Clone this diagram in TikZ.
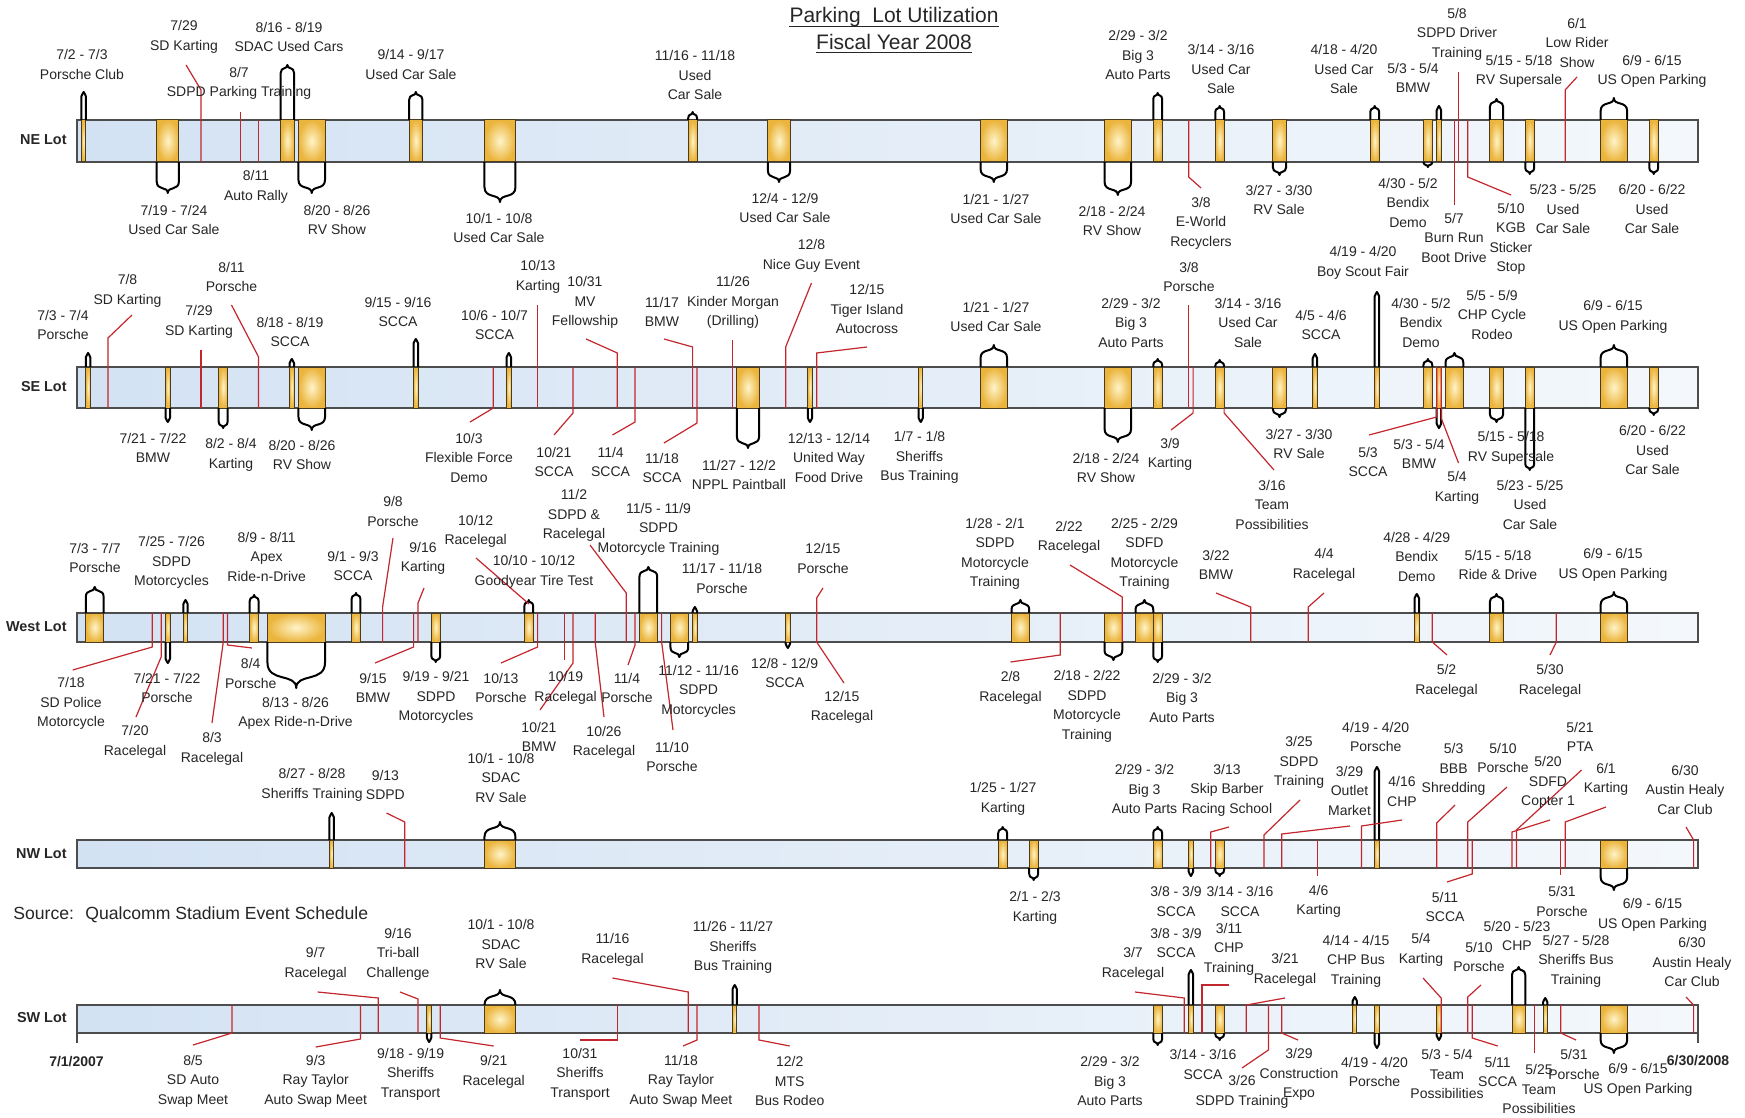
\documentclass[tikz,border=0pt]{standalone}
\usepackage{fontspec}
\setmainfont{Liberation Sans}
\definecolor{barL}{HTML}{D3E2F3}
\definecolor{barR}{HTML}{F4F8FC}
\definecolor{barline}{HTML}{4D4D4D}
\definecolor{boxin}{HTML}{FFF4C8}
\definecolor{boxout}{HTML}{EBB43C}
\definecolor{boxline}{HTML}{4A3C1C}
\definecolor{lead}{HTML}{C4262E}
\definecolor{txt}{HTML}{262626}
\pgfmathdeclarefunction{xd}{1}{\pgfmathparse{77+4.429*#1}}
\newcounter{labc}
\tikzset{
 bar/.style={draw=barline,line width=0.8pt,left color=barL,right color=barR},
 evbox/.style={draw=boxline,line width=0.5pt,inner color=boxin,outer color=boxout},
 callout/.style={draw=black,line width=1pt,line join=round},
 leader/.style={draw=lead,line width=0.6pt},
 lbl/.style={font=\fontsize{7}{9.75}\selectfont,align=center,text=txt,inner sep=0pt},
 lot/.style={font=\fontsize{7.2}{9}\selectfont\bfseries,text=txt,inner sep=0pt,anchor=east},
}
\newcommand\evlab[3]{\stepcounter{labc}\node[lbl] (lab\arabic{labc}) at (#1,#2) {#3};}
\newcommand\evbx[2]{\pgfmathsetmacro\qa{xd(#1)}\pgfmathsetmacro\qb{xd(#2)}\draw[evbox] (\qa,\yt) rectangle (\qb,\yb);}
\newcommand\callup[3]{%
 \pgfmathsetmacro\qa{xd(#1)}\pgfmathsetmacro\qb{xd(#2)}%
 \pgfmathsetmacro\qm{(\qa+\qb)/2}%
 \pgfmathsetmacro\qh{min(0.4*(\qb-\qa)+2.5,\yt-#3)}%
 \pgfmathsetmacro\qy{#3+\qh}\pgfmathsetmacro\qc{#3+0.2*\qh}\pgfmathsetmacro\qd{#3+0.6*\qh}%
 \draw[callout] (\qa,\yt) -- (\qa,\qy) .. controls (\qa,\qc) and (\qm,\qd) .. (\qm,#3) .. controls (\qm,\qd) and (\qb,\qc) .. (\qb,\qy) -- (\qb,\yt);}
\newcommand\calldn[3]{%
 \pgfmathsetmacro\qa{xd(#1)}\pgfmathsetmacro\qb{xd(#2)}%
 \pgfmathsetmacro\qm{(\qa+\qb)/2}%
 \pgfmathsetmacro\qh{min(0.4*(\qb-\qa)+2.5,#3-\yb)}%
 \pgfmathsetmacro\qy{#3-\qh}\pgfmathsetmacro\qc{#3-0.2*\qh}\pgfmathsetmacro\qd{#3-0.6*\qh}%
 \draw[callout] (\qa,\yb) -- (\qa,\qy) .. controls (\qa,\qc) and (\qm,\qd) .. (\qm,#3) .. controls (\qm,\qd) and (\qb,\qc) .. (\qb,\qy) -- (\qb,\yb);}
\newcommand\evu[3]{\evbx{#1}{#2}\callup{#1}{#2}{#3}}
\newcommand\evd[3]{\evbx{#1}{#2}\calldn{#1}{#2}{#3}}
\begin{document}
\begin{tikzpicture}[x=0.5pt,y=-0.5pt]
\useasboundingbox (0,0) rectangle (1745,1118);
\fill[white] (0,0) rectangle (1745,1118);
% ---------- title ----------
\node[font=\fontsize{10.5}{12}\selectfont,text=txt,inner sep=0pt,anchor=base] (t1) at (894,23) {Parking~ Lot Utilization};
\node[font=\fontsize{10.5}{12}\selectfont,text=txt,inner sep=0pt,anchor=base] (t2) at (894,49.5) {Fiscal Year 2008};
\draw[txt,line width=0.6pt] ([yshift=-1.6pt]t1.base west) -- ([yshift=-1.6pt]t1.base east);
\draw[txt,line width=0.6pt] ([yshift=-1.6pt]t2.base west) -- ([yshift=-1.6pt]t2.base east);
\node[font=\fontsize{8.8}{10}\selectfont,text=txt,inner sep=0pt,anchor=west] (src) at (13,915) {Source:~ Qualcomm Stadium Event Schedule};
% ================= NE LOT =================
\def\yt{120}\def\yb{162}
\draw[bar] (77,\yt) rectangle (1698,\yb);
\node[lot] (neLot) at (67,140) {NE Lot};
\evu{1}{2}{92}
\evd{18}{23}{193}
\evu{46}{49}{65}
\evd{50}{56}{193}
\evu{75}{78}{92}
\evd{92}{99}{202}
\evu{138}{140}{112}
\evd{156}{161}{182}
\evd{204}{210}{182}
\evd{232}{238}{195}
\evu{243}{245}{93}
\evu{257}{259}{106}
\evd{270}{273}{175}
\evu{292}{294}{106}
\evd{304}{306}{167}
\evu{307}{308}{106}
\evu{319}{322}{99}
\evd{327}{329}{174}
\evu{344}{350}{98}
\evd{355}{357}{174}
\draw[leader] (186,65) -- ({xd(28)},90) -- ({xd(28)},162);
\draw[leader] ({xd(37)},112) -- ({xd(37)},162);
\draw[leader] ({xd(41)},120) -- ({xd(41)},162);
\draw[leader] ({xd(251)},120) -- ({xd(251)},177) -- (1201,188);
\draw[leader] ({xd(311)},120) -- ({xd(311)},205);
\draw[leader] ({xd(312)},72) -- ({xd(312)},162);
\draw[leader] ({xd(314)},120) -- ({xd(314)},177) -- (1511,195);
\draw[leader] ({xd(336)},162) -- ({xd(336)},90) -- (1577,77);
\evlab{82}{64.5}{7/2 - 7/3\\Porsche Club}
\evlab{174}{220}{7/19 - 7/24\\Used Car Sale}
\evlab{184}{37}{7/29\\SD Karting}
\evlab{239}{83.5}{8/7\\SDPD Parking Training}
\evlab{256}{187}{8/11\\Auto Rally}
\evlab{289}{37}{8/16 - 8/19\\SDAC Used Cars}
\evlab{337}{220}{8/20 - 8/26\\RV Show}
\evlab{411}{64.5}{9/14 - 9/17\\Used Car Sale}
\evlab{499}{228}{10/1 - 10/8\\Used Car Sale}
\evlab{695}{75}{11/16 - 11/18\\Used\\Car Sale}
\evlab{785}{208}{12/4 - 12/9\\Used Car Sale}
\evlab{996}{209}{1/21 - 1/27\\Used Car Sale}
\evlab{1112}{221}{2/18 - 2/24\\RV Show}
\evlab{1138}{55}{2/29 - 3/2\\Big 3\\Auto Parts}
\evlab{1201}{223}{3/8\\E-World\\Recyclers}
\evlab{1221}{69}{3/14 - 3/16\\Used Car\\Sale}
\evlab{1279}{200}{3/27 - 3/30\\RV Sale}
\evlab{1344}{69}{4/18 - 4/20\\Used Car\\Sale}
\evlab{1408}{202.5}{4/30 - 5/2\\Bendix\\Demo}
\evlab{1413}{78}{5/3 - 5/4\\BMW}
\evlab{1454}{237.5}{5/7\\Burn Run\\Boot Drive}
\evlab{1457}{34}{5/8\\SDPD Driver\\Training}
\evlab{1511}{239}{5/10\\KGB\\Sticker\\Stop}
\evlab{1519}{71.5}{5/15 - 5/18\\RV Supersale}
\evlab{1563}{209}{5/23 - 5/25\\Used\\Car Sale}
\evlab{1577}{42.5}{6/1\\Low Rider\\Show}
\evlab{1652}{71.5}{6/9 - 6/15\\US Open Parking}
\evlab{1652}{209}{6/20 - 6/22\\Used\\Car Sale}
% ================= SE LOT =================
\def\yt{367}\def\yb{408}
\draw[bar] (77,\yt) rectangle (1698,\yb);
\node[lot] (seLot) at (67,387) {SE Lot};
\evu{2}{3}{353}
\evd{20}{21}{422}
\evd{32}{34}{428}
\evu{48}{49}{359}
\evd{50}{56}{430}
\evu{76}{77}{339}
\evu{97}{98}{353}
\evd{149}{154}{448}
\evd{165}{166}{422}
\evd{190}{191}{422}
\evu{204}{210}{345}
\evd{232}{238}{442}
\evu{243}{245}{359}
\evu{257}{259}{360}
\evd{270}{273}{417}
\evu{279}{280}{354}
\evu{293}{294}{292}
\evu{304}{306}{359}
\evd{307}{308}{428}
\evu{309}{313}{353}
\evd{319}{322}{422}
\evd{327}{329}{470}
\evu{344}{350}{345}
\evd{355}{357}{415}
\draw[leader] (132,315) -- ({xd(7)},338) -- ({xd(7)},408);
\draw[leader] ({xd(28)},350) -- ({xd(28)},408);
\draw[leader] (231.5,305) -- ({xd(41)},357) -- ({xd(41)},408);
\draw[leader] ({xd(94)},367) -- ({xd(94)},408) -- (470,422);
\draw[leader] ({xd(104)},305) -- ({xd(104)},408);
\draw[leader] ({xd(112)},367) -- ({xd(112)},413) -- (554,435);
\draw[leader] (586,339) -- ({xd(122)},353) -- ({xd(122)},408);
\draw[leader] ({xd(126)},367) -- ({xd(126)},422) -- (612.5,435);
\draw[leader] (664,339) -- ({xd(139)},347) -- ({xd(139)},408);
\draw[leader] ({xd(140)},367) -- ({xd(140)},423) -- (664,443);
\draw[leader] ({xd(148)},340) -- ({xd(148)},408);
\draw[leader] (811.5,283) -- ({xd(160)},347) -- ({xd(160)},408);
\draw[leader] (867,347) -- ({xd(167)},353) -- ({xd(167)},408);
\draw[leader] ({xd(251)},305) -- ({xd(251)},408);
\draw[leader] ({xd(252)},367) -- ({xd(252)},413) -- (1171,430);
\draw[leader] ({xd(259)},408) -- ({xd(259)},413) -- (1274,470);
\draw[leader] ({xd(307)},367) -- ({xd(307)},417) -- (1369,435);
\draw[leader] ({xd(308)},367) -- ({xd(308)},418) -- (1458.5,463);
\evlab{63}{325}{7/3 - 7/4\\Porsche}
\evlab{127.5}{291}{7/8\\SD Karting}
\evlab{153}{448}{7/21 - 7/22\\BMW}
\evlab{199}{322}{7/29\\SD Karting}
\evlab{231}{455}{8/2 - 8/4\\Karting}
\evlab{231.5}{277}{8/11\\Porsche}
\evlab{290}{332}{8/18 - 8/19\\SCCA}
\evlab{302}{455}{8/20 - 8/26\\RV Show}
\evlab{398}{312}{9/15 - 9/16\\SCCA}
\evlab{469}{457.5}{10/3\\Flexible Force\\Demo}
\evlab{494.5}{325}{10/6 - 10/7\\SCCA}
\evlab{538}{277}{10/13\\Karting}
\evlab{554}{462}{10/21\\SCCA}
\evlab{585}{302.5}{10/31\\MV\\Fellowship}
\evlab{610.6}{462}{11/4\\SCCA}
\evlab{662}{312}{11/17\\BMW}
\evlab{662}{468}{11/18\\SCCA}
\evlab{733}{302.5}{11/26\\Kinder Morgan\\(Drilling)}
\evlab{739}{475}{11/27 - 12/2\\NPPL Paintball}
\evlab{811.5}{256}{12/8\\Nice Guy Event}
\evlab{829}{457.5}{12/13 - 12/14\\United Way\\Food Drive}
\evlab{867}{309}{12/15\\Tiger Island\\Autocross}
\evlab{919.5}{457.5}{1/7 - 1/8\\Sheriffs\\Bus Training}
\evlab{996}{317}{1/21 - 1/27\\Used Car Sale}
\evlab{1106}{468}{2/18 - 2/24\\RV Show}
\evlab{1131}{322.5}{2/29 - 3/2\\Big 3\\Auto Parts}
\evlab{1189}{277}{3/8\\Porsche}
\evlab{1170}{454.5}{3/9\\Karting}
\evlab{1248}{322.5}{3/14 - 3/16\\Used Car\\Sale}
\evlab{1272}{504.5}{3/16\\Team\\Possibilities}
\evlab{1299}{444}{3/27 - 3/30\\RV Sale}
\evlab{1321}{325}{4/5 - 4/6\\SCCA}
\evlab{1363}{263}{4/19 - 4/20\\Boy Scout Fair}
\evlab{1421}{322.5}{4/30 - 5/2\\Bendix\\Demo}
\evlab{1368}{462}{5/3\\SCCA}
\evlab{1419}{454}{5/3 - 5/4\\BMW}
\evlab{1457}{488}{5/4\\Karting}
\evlab{1492}{314.5}{5/5 - 5/9\\CHP Cycle\\Rodeo}
\evlab{1511}{448}{5/15 - 5/18\\RV Supersale}
\evlab{1530}{504.5}{5/23 - 5/25\\Used\\Car Sale}
\evlab{1613}{317}{6/9 - 6/15\\US Open Parking}
\evlab{1652.5}{450}{6/20 - 6/22\\Used\\Car Sale}
% ================= WEST LOT =================
\def\yt{613}\def\yb{642}
\draw[bar] (77,\yt) rectangle (1698,\yb);
\node[lot] (wLot) at (67,627) {West Lot};
\evu{2}{6}{587}
\evd{20}{21}{663}
\evu{24}{25}{600}
\evu{39}{41}{595}
\evd{43}{56}{688}
\evu{62}{64}{593}
\evd{80}{82}{662}
\evu{101}{103}{600}
\evu{127}{131}{567}
\evd{134}{138}{657}
\evu{139}{140}{607}
\evd{160}{161}{648}
\evu{211}{215}{600}
\evd{232}{236}{660}
\evu{239}{243}{600}
\evd{243}{245}{662}
\evu{302}{303}{594}
\evu{319}{322}{594}
\evu{344}{350}{592}
\draw[leader] ({xd(17)},613) -- ({xd(17)},647) -- (72.7,670);
\draw[leader] ({xd(19)},613) -- ({xd(19)},657) -- (136,717);
\draw[leader] ({xd(33)},613) -- ({xd(33)},643) -- (212,723);
\draw[leader] ({xd(34)},613) -- ({xd(34)},645) -- (252,648);
\draw[leader] (393,538) -- ({xd(69)},607) -- ({xd(69)},642);
\draw[leader] ({xd(76)},613) -- ({xd(76)},647) -- (375,663);
\draw[leader] (424,588) -- ({xd(77)},603) -- ({xd(77)},642);
\draw[leader] (476,558) -- (529,604);
\draw[leader] ({xd(104)},613) -- ({xd(104)},647) -- (501,663);
\draw[leader] ({xd(110)},613) -- ({xd(110)},660);
\draw[leader] ({xd(112)},613) -- ({xd(112)},663) -- (540,710);
\draw[leader] ({xd(117)},613) -- ({xd(117)},642) -- (604,717);
\draw[leader] (590,545) -- ({xd(124)},593) -- ({xd(124)},642);
\draw[leader] ({xd(126)},613) -- ({xd(126)},645) -- (628,665);
\draw[leader] ({xd(132)},613) -- ({xd(132)},642) -- (673,730);
\draw[leader] (823,588) -- ({xd(167)},598) -- ({xd(167)},642) -- (844,683);
\draw[leader] ({xd(222)},613) -- ({xd(222)},655) -- (1010.5,662);
\draw[leader] (1070,565) -- ({xd(236)},597) -- ({xd(236)},642);
\draw[leader] (1216,593) -- ({xd(265)},607) -- ({xd(265)},642);
\draw[leader] (1324,593) -- ({xd(278)},607) -- ({xd(278)},642);
\draw[leader] ({xd(306)},613) -- ({xd(306)},642) -- (1447,655);
\draw[leader] ({xd(334)},613) -- ({xd(334)},642) -- (1550,655);
\evlab{95}{558}{7/3 - 7/7\\Porsche}
\evlab{71}{703.5}{7/18\\SD Police\\Motorcycle}
\evlab{135}{742}{7/20\\Racelegal}
\evlab{167}{688}{7/21 - 7/22\\Porsche}
\evlab{171.5}{562.5}{7/25 - 7/26\\SDPD\\Motorcycles}
\evlab{212}{749}{8/3\\Racelegal}
\evlab{250.7}{673.5}{8/4\\Porsche}
\evlab{266.7}{556.5}{8/9 - 8/11\\Apex\\Ride-n-Drive}
\evlab{295.5}{713.5}{8/13 - 8/26\\Apex Ride-n-Drive}
\evlab{353}{566}{9/1 - 9/3\\SCCA}
\evlab{393}{511.5}{9/8\\Porsche}
\evlab{373}{688}{9/15\\BMW}
\evlab{423}{558.5}{9/16\\Karting}
\evlab{436}{697.5}{9/19 - 9/21\\SDPD\\Motorcycles}
\evlab{534}{572}{10/10 - 10/12\\Goodyear Tire Test}
\evlab{475.7}{531.5}{10/12\\Racelegal}
\evlab{501}{688}{10/13\\Porsche}
\evlab{565.6}{688}{10/19\\Racelegal}
\evlab{539}{737}{10/21\\BMW}
\evlab{604}{742.5}{10/26\\Racelegal}
\evlab{574}{515.5}{11/2\\SDPD \&\\Racelegal}
\evlab{627}{688}{11/4\\Porsche}
\evlab{658.5}{529}{11/5 - 11/9\\SDPD\\Motorcycle Training}
\evlab{672}{757}{11/10\\Porsche}
\evlab{698.6}{691}{11/12 - 11/16\\SDPD\\Motorcycles}
\evlab{722}{578.5}{11/17 - 11/18\\Porsche}
\evlab{784.7}{673}{12/8 - 12/9\\SCCA}
\evlab{823}{558.5}{12/15\\Porsche}
\evlab{842}{707.5}{12/15\\Racelegal}
\evlab{995}{554}{1/28 - 2/1\\SDPD\\Motorcycle\\Training}
\evlab{1010.5}{688}{2/8\\Racelegal}
\evlab{1069}{537.5}{2/22\\Racelegal}
\evlab{1087}{706.5}{2/18 - 2/22\\SDPD\\Motorcycle\\Training}
\evlab{1144.5}{554}{2/25 - 2/29\\SDFD\\Motorcycle\\Training}
\evlab{1182}{697.5}{2/29 - 3/2\\Big 3\\Auto Parts}
\evlab{1216}{565}{3/22\\BMW}
\evlab{1324}{565}{4/4\\Racelegal}
\evlab{1416.7}{556.5}{4/28 - 4/29\\Bendix\\Demo}
\evlab{1446.5}{681}{5/2\\Racelegal}
\evlab{1498}{565}{5/15 - 5/18\\Ride \& Drive}
\evlab{1550}{681}{5/30\\Racelegal}
\evlab{1613}{565}{6/9 - 6/15\\US Open Parking}
% ================= NW LOT =================
\def\yt{840}\def\yb{868}
\draw[bar] (77,\yt) rectangle (1698,\yb);
\node[lot] (nwLot) at (67,854) {NW Lot};
\evu{57}{58}{813}
\evu{92}{99}{822}
\evu{208}{210}{827}
\evd{215}{217}{880}
\evu{243}{245}{827}
\evd{251}{252}{876}
\evd{257}{259}{876}
\evu{293}{294}{767}
\evd{344}{350}{890}
\draw[leader] (386.5,813) -- ({xd(74)},822) -- ({xd(74)},868);
\draw[leader] (1229,827) -- ({xd(256)},832) -- ({xd(256)},868);
\draw[leader] (1300,800) -- ({xd(268)},835) -- ({xd(268)},868);
\draw[leader] (1350,826) -- ({xd(272)},834) -- ({xd(272)},868);
\draw[leader] ({xd(280)},840) -- ({xd(280)},876);
\draw[leader] (1402,820) -- ({xd(290)},826) -- ({xd(290)},868);
\draw[leader] (1455,805) -- ({xd(307)},823) -- ({xd(307)},868);
\draw[leader] (1507,787) -- ({xd(314)},822) -- ({xd(314)},868);
\draw[leader] ({xd(315)},840) -- ({xd(315)},874) -- (1447,882);
\draw[leader] (1550,820) -- ({xd(324)},832) -- ({xd(324)},868);
\draw[leader] (1581.6,770) -- ({xd(325)},830) -- ({xd(325)},868);
\draw[leader] ({xd(335)},840) -- ({xd(335)},875);
\draw[leader] (1606,807) -- ({xd(336)},822) -- ({xd(336)},868);
\draw[leader] (1686,827) -- ({xd(365)},840) -- ({xd(365)},868);
\evlab{312}{785}{8/27 - 8/28\\Sheriffs Training}
\evlab{385.4}{785}{9/13\\SDPD}
\evlab{501}{777.5}{10/1 - 10/8\\SDAC\\RV Sale}
\evlab{1003}{799}{1/25 - 1/27\\Karting}
\evlab{1035}{908}{2/1 - 2/3\\Karting}
\evlab{1144.5}{789}{2/29 - 3/2\\Big 3\\Auto Parts}
\evlab{1176}{901.5}{3/8 - 3/9\\SCCA}
\evlab{1227}{790}{3/13\\Skip Barber\\Racing School}
\evlab{1240}{901.5}{3/14 - 3/16\\SCCA}
\evlab{1299}{762.5}{3/25\\SDPD\\Training}
\evlab{1349.5}{790.5}{3/29\\Outlet\\Market}
\evlab{1318.6}{901.5}{4/6\\Karting}
\evlab{1402}{791.5}{4/16\\CHP}
\evlab{1375.7}{737}{4/19 - 4/20\\Porsche}
\evlab{1453.6}{769.5}{5/3\\BBB\\Shredding}
\evlab{1503}{758}{5/10\\Porsche}
\evlab{1445}{907}{5/11\\SCCA}
\evlab{1548}{782.5}{5/20\\SDFD\\Copter 1}
\evlab{1580}{737}{5/21\\PTA}
\evlab{1562}{901.5}{5/31\\Porsche}
\evlab{1606}{779.5}{6/1\\Karting}
\evlab{1652.5}{915}{6/9 - 6/15\\US Open Parking}
\evlab{1685}{789.5}{6/30\\Austin Healy\\Car Club}
% ================= SW LOT =================
\def\yt{1005}\def\yb{1033}
\draw[bar] (77,\yt) rectangle (1698,\yb);
\node[lot] (swLot) at (67,1018) {SW Lot};
\draw[barline,line width=0.8pt] (77,1033) -- (77,1043);
\draw[barline,line width=0.8pt] (1698,1033) -- (1698,1043);
\node[lot,anchor=center,font=\fontsize{7}{9}\selectfont\bfseries] (dStart) at (76.5,1062) {7/1/2007};
\node[lot,anchor=center,font=\fontsize{7}{9}\selectfont\bfseries] (dEnd) at (1698,1061) {6/30/2008};
\evd{79}{80}{1042}
\evu{92}{99}{990}
\evu{148}{149}{985}
\evd{243}{245}{1045}
\evu{251}{252}{970}
\evd{257}{259}{1040}
\evu{288}{289}{997}
\evd{293}{294}{1048}
\evd{307}{308}{1040}
\evu{324}{327}{967}
\evu{331}{332}{998}
\evd{344}{350}{1053}
\draw[leader] ({xd(35)},1005) -- ({xd(35)},1033) -- (193,1045);
\draw[leader] ({xd(64)},1005) -- ({xd(64)},1039) -- (315.7,1047);
\draw[leader] (317.6,992) -- ({xd(68)},998) -- ({xd(68)},1033);
\draw[leader] (400,992) -- ({xd(77)},999) -- ({xd(77)},1033);
\draw[leader] ({xd(82)},1005) -- ({xd(82)},1038) -- (493.7,1046);
\draw[leader] ({xd(122)},1005) -- ({xd(122)},1040) -- (580,1040);
\draw[leader] (612.5,978) -- ({xd(138)},992) -- ({xd(138)},1033);
\draw[leader] ({xd(140)},1005) -- ({xd(140)},1040) -- (683,1046);
\draw[leader] ({xd(154)},1005) -- ({xd(154)},1040) -- (789.7,1046);
\draw[leader] (1135,992) -- ({xd(250)},998) -- ({xd(250)},1033);
\draw[leader] (1229,985) -- ({xd(254)},985) -- ({xd(254)},1033);
\draw[leader] (1285,998) -- ({xd(264)},1005) -- ({xd(264)},1033);
\draw[leader] ({xd(269)},1005) -- ({xd(269)},1050) -- (1242,1068);
\draw[leader] ({xd(272)},1005) -- ({xd(272)},1033) -- (1298,1040);
\draw[leader] (1423,978) -- ({xd(308)},998) -- ({xd(308)},1033);
\draw[leader] (1481,985) -- ({xd(314)},997) -- ({xd(314)},1033);
\draw[leader] ({xd(315)},1005) -- ({xd(315)},1038) -- (1497.7,1046);
\draw[leader] ({xd(329)},1005) -- ({xd(329)},1053);
\draw[leader] ({xd(335)},1005) -- ({xd(335)},1033) -- (1576,1040);
\draw[leader] (1686,997) -- ({xd(365)},1005) -- ({xd(365)},1033);
\evlab{193}{1081}{8/5\\SD Auto\\Swap Meet}
\evlab{315.7}{1081}{9/3\\Ray Taylor\\Auto Swap Meet}
\evlab{315.7}{964}{9/7\\Racelegal}
\evlab{398}{954}{9/16\\Tri-ball\\Challenge}
\evlab{410.6}{1074}{9/18 - 9/19\\Sheriffs\\Transport}
\evlab{493.7}{1072}{9/21\\Racelegal}
\evlab{501}{944}{10/1 - 10/8\\SDAC\\RV Sale}
\evlab{580}{1074}{10/31\\Sheriffs\\Transport}
\evlab{612.5}{950}{11/16\\Racelegal}
\evlab{681}{1081}{11/18\\Ray Taylor\\Auto Swap Meet}
\evlab{733}{947.5}{11/26 - 11/27\\Sheriffs\\Bus Training}
\evlab{789.7}{1081}{12/2\\MTS\\Bus Rodeo}
\evlab{1110}{1081}{2/29 - 3/2\\Big 3\\Auto Parts}
\evlab{1133}{964}{3/7\\Racelegal}
\evlab{1176}{943}{3/8 - 3/9\\SCCA}
\evlab{1229}{949}{3/11\\CHP\\Training}
\evlab{1203}{1064.5}{3/14 - 3/16\\SCCA}
\evlab{1285}{970}{3/21\\Racelegal}
\evlab{1242}{1092}{3/26\\SDPD Training}
\evlab{1299}{1074.5}{3/29\\Construction\\Expo}
\evlab{1356}{961}{4/14 - 4/15\\CHP Bus\\Training}
\evlab{1374.5}{1072}{4/19 - 4/20\\Porsche}
\evlab{1447}{1074}{5/3 - 5/4\\Team\\Possibilities}
\evlab{1421}{950}{5/4\\Karting}
\evlab{1479}{957}{5/10\\Porsche}
\evlab{1497.6}{1072}{5/11\\SCCA}
\evlab{1517}{936}{5/20 - 5/23\\CHP}
\evlab{1539}{1089}{5/25\\Team\\Possibilities}
\evlab{1576}{961}{5/27 - 5/28\\Sheriffs Bus\\Training}
\evlab{1574}{1064.5}{5/31\\Porsche}
\evlab{1638}{1080}{6/9 - 6/15\\US Open Parking}
\evlab{1692}{962}{6/30\\Austin Healy\\Car Club}
\end{tikzpicture}
\end{document}
